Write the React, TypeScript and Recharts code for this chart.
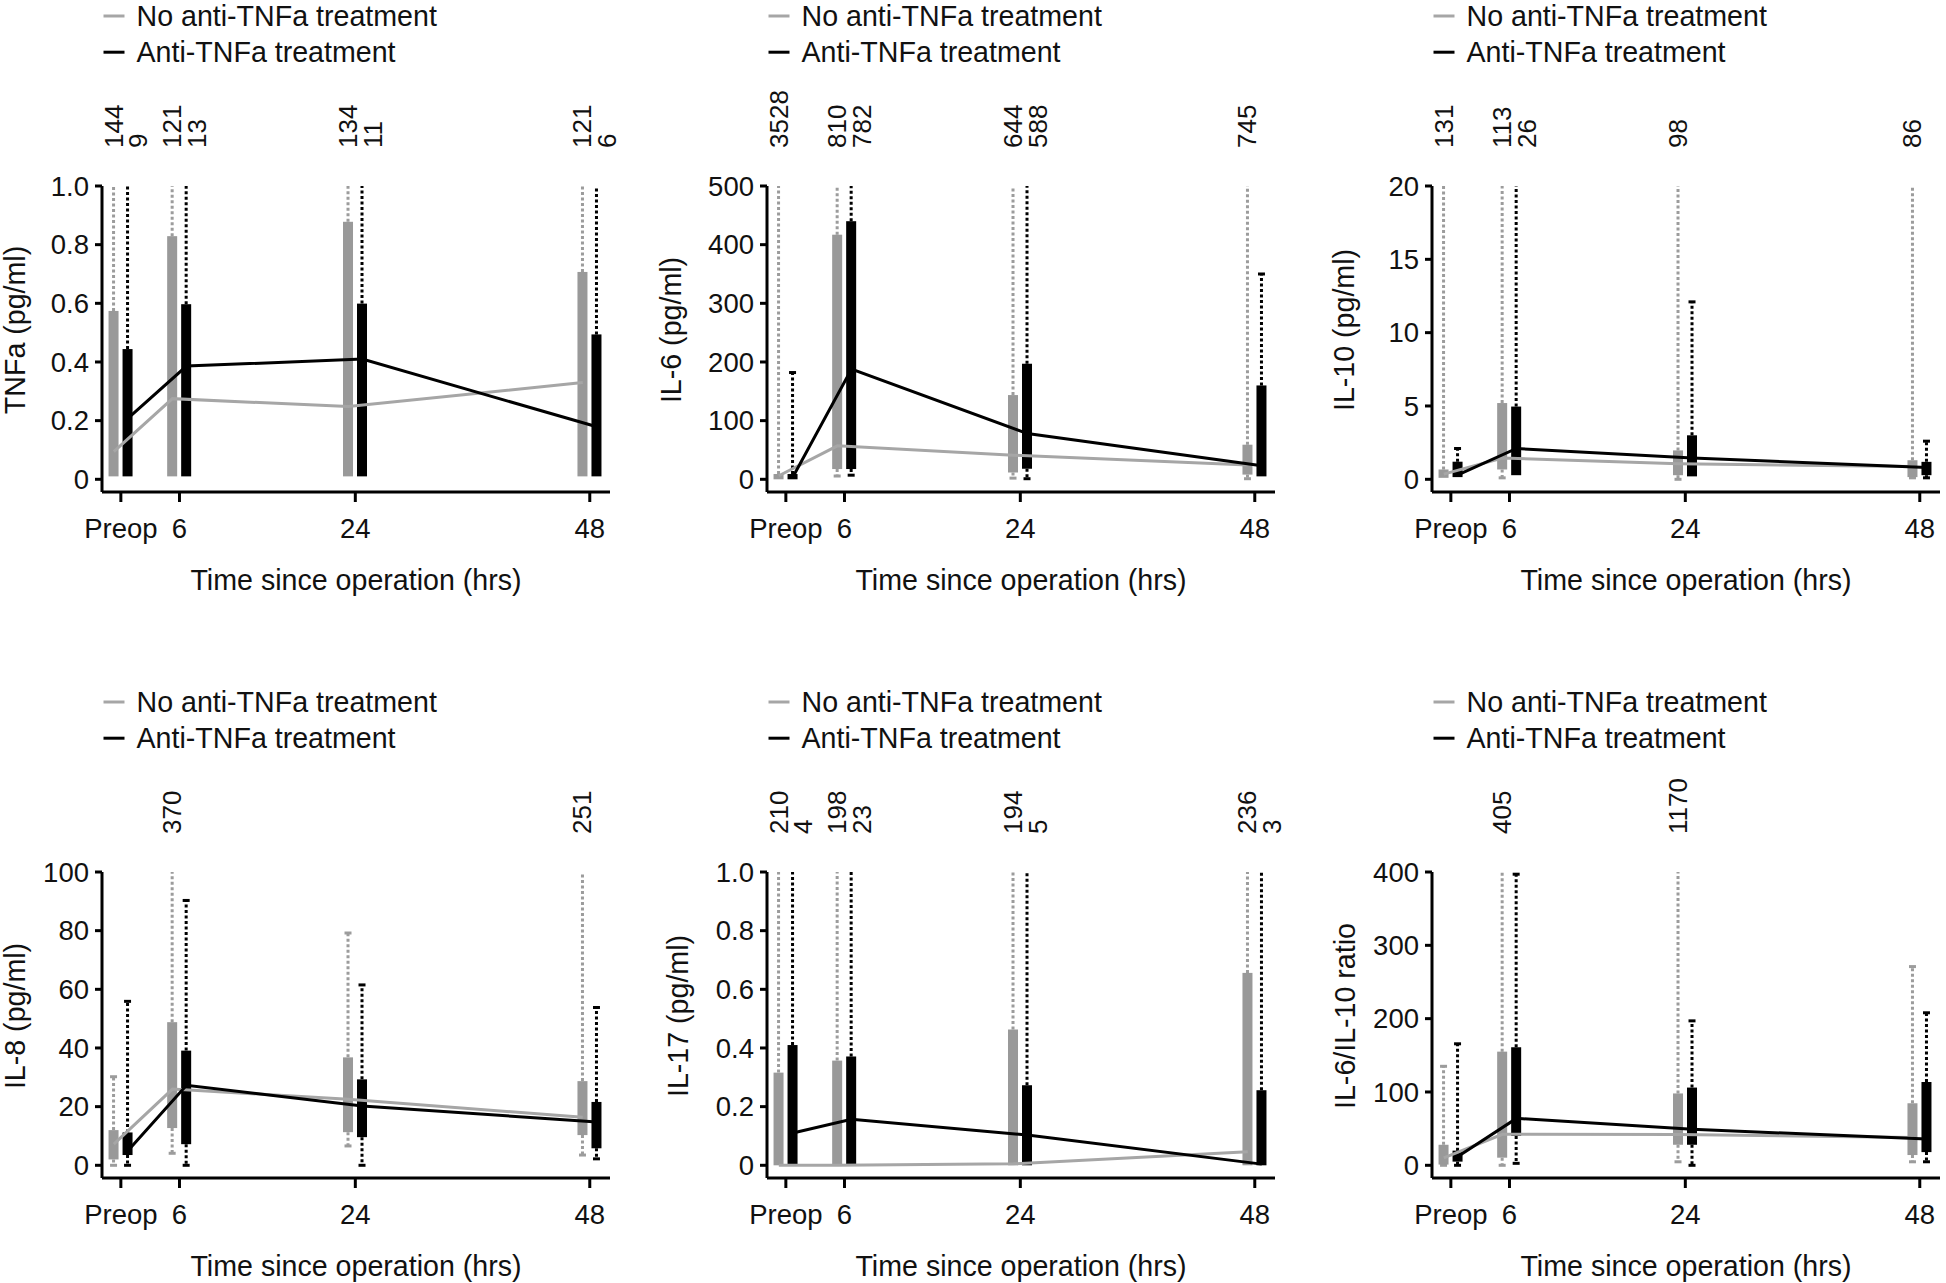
import React from 'react';
import { ComposedChart, Bar, Line, XAxis, YAxis, Legend } from 'recharts';

// ---------- shared categories / labels ----------
const timeLabels = ['Preop', '6', '24', '48'];
const timeHours = [0, 6, 24, 48];
const legendLabels = ['No anti-TNFa treatment', 'Anti-TNFa treatment'];
const xTitle = 'Time since operation (hrs)';

// each row: [lower whisker, Q1, median, Q3, upper whisker] for Preop, 6, 24, 48 h
const tnfaNo = [[0.01, 0.01, 0.094, 0.574, 144], [0.01, 0.01, 0.275, 0.829, 121], [0.01, 0.01, 0.248, 0.878, 134], [0.01, 0.01, 0.33, 0.707, 121]];
const tnfaAnti = [[0.01, 0.01, 0.208, 0.444, 9], [0.01, 0.01, 0.386, 0.597, 13], [0.01, 0.01, 0.41, 0.599, 11], [0.01, 0.01, 0.179, 0.494, 6]];
const tnfaTicks = [0, 0.2, 0.4, 0.6, 0.8, 1];
const tnfaTickLabels = ['0', '0.2', '0.4', '0.6', '0.8', '1.0'];

const il6No = [[0, 0, 6, 9, 3528], [5.6, 17.5, 57, 417, 810], [2, 11.6, 41, 143.6, 644], [1, 8, 24.5, 59, 745]];
const il6Anti = [[0, 0, 4, 9, 182], [7, 17.5, 188, 440, 782], [1, 18, 78, 197, 588], [5, 5, 23, 160, 350]];
const il6Ticks = [0, 100, 200, 300, 400, 500];
const il6TickLabels = ['0', '100', '200', '300', '400', '500'];

const il10No = [[0.1, 0.1, 0.35, 0.67, 131], [0.1, 0.67, 1.45, 5.2, 113], [0, 0.28, 1.06, 1.97, 98], [0.1, 0.15, 0.88, 1.3, 86]];
const il10Anti = [[0.15, 0.15, 0.3, 1.2, 2.1], [0.28, 0.28, 2.1, 4.96, 26], [0.2, 0.2, 1.45, 3.0, 12.1], [0.1, 0.28, 0.8, 1.19, 2.6]];
const il10Ticks = [0, 5, 10, 15, 20];
const il10TickLabels = ['0', '5', '10', '15', '20'];

const il8No = [[0, 2, 7.2, 12, 30.2], [4.1, 12.7, 26, 48.8, 370], [6.6, 11.3, 22.5, 36.8, 79.2], [3.5, 10.3, 16.4, 28.7, 251]];
const il8Anti = [[0, 3.5, 5, 11.2, 55.9], [0, 7.2, 27.3, 39.1, 90.3], [0, 9.6, 20.2, 29.3, 61.5], [2.2, 5.8, 14.8, 21.6, 53.8]];
const il8Ticks = [0, 20, 40, 60, 80, 100];
const il8TickLabels = ['0', '20', '40', '60', '80', '100'];

const il17No = [[0, 0, 0, 0.316, 210], [0, 0, 0, 0.357, 198], [0, 0, 0.005, 0.463, 194], [0, 0, 0.046, 0.656, 236]];
const il17Anti = [[0, 0, 0.11, 0.41, 4], [0, 0, 0.157, 0.371, 23], [0, 0, 0.103, 0.273, 5], [0, 0, 0.004, 0.256, 3]];
const il17Ticks = [0, 0.2, 0.4, 0.6, 0.8, 1];
const il17TickLabels = ['0', '0.2', '0.4', '0.6', '0.8', '1.0'];

const ratioNo = [[0, 1, 10, 28, 135], [0, 10.4, 42.3, 155, 405], [4.8, 28, 42, 98, 1170], [4.8, 14, 38, 84.6, 271]];
const ratioAnti = [[0, 5, 12, 20, 165.7], [2.7, 40, 64, 161, 397], [0, 28, 49, 106, 197], [4.8, 18, 36, 113.6, 208]];
const ratioTicks = [0, 100, 200, 300, 400];
const ratioTickLabels = ['0', '100', '200', '300', '400'];

// ---------- styling / layout constants ----------
const GRAY_BOX = '#999999';
const GRAY_LINE = '#a6a6a6';
const GRAY_WHISKER = '#9c9c9c';
const BLACK = '#000000';
const INK = '#111111';
const FONT = '"Liberation Sans", Arial, Helvetica, sans-serif';

const PANEL_W = 665;
const PANEL_H = 597;
const PLOT_TOP = 186;
const PLOT_LEFT = 102;
const PLOT_RIGHT = 610;
const AXIS_Y = 492;
const ZERO_Y = 479.3;
const X_MIN = -1.93;
const X_MAX = 50.07;
const LINE_SHIFT = 0.72; // hours, so median lines meet box centres
const TICK_FONT = 27.5;
const TITLE_FONT = 28.6;
const COUNT_FONT = 26;

const grayRange = (r: any) => [r.gQ1, r.gQ3];
const blackRange = (r: any) => [r.bQ1, r.bQ3];

function makeBoxShape(group: 'g' | 'b', yMax: number) {
  return (props: any) => {
    const { x, y, width, height, payload } = props;
    if (x == null || y == null || payload == null) return <g />;
    const lo = payload[group + 'Lo'];
    const q1 = payload[group + 'Q1'];
    const q3 = payload[group + 'Q3'];
    const hi = payload[group + 'Hi'];
    const top = Math.min(y, y + height);
    const h = Math.abs(height);
    const k = q3 > q1 ? h / (q3 - q1) : 0;
    const pix = (v: number) => top + (q3 - v) * k;
    const cx = x + width / 2;
    const isG = group === 'g';
    const fill = isG ? GRAY_BOX : BLACK;
    const wc = isG ? GRAY_WHISKER : BLACK;
    const pHi = pix(Math.min(hi, yMax));
    const pTop = pix(yMax);
    const pLo = pix(lo);
    const tx = cx + (isG ? 9 : 19.5);
    const ty = pTop - 38;
    return (
      <g>
        {hi > q3 && (
          <line x1={cx} x2={cx} y1={top} y2={pHi} stroke={wc} strokeWidth={3} strokeDasharray="3 2.5" />
        )}
        {hi > q3 && hi <= yMax && (
          <line x1={cx - 3.5} x2={cx + 3.5} y1={pHi} y2={pHi} stroke={wc} strokeWidth={3} />
        )}
        {lo < q1 && (
          <line x1={cx} x2={cx} y1={top + h} y2={pLo} stroke={wc} strokeWidth={3} strokeDasharray="3 2.5" />
        )}
        {lo < q1 && (
          <line x1={cx - 3.5} x2={cx + 3.5} y1={pLo} y2={pLo} stroke={wc} strokeWidth={3} />
        )}
        <rect x={x} y={top} width={width} height={h} fill={fill} />
        {hi > yMax && (
          <text x={tx} y={ty} transform={`rotate(-90, ${tx}, ${ty})`} textAnchor="start" fontSize={COUNT_FONT} fill={INK}>
            {String(hi)}
          </text>
        )}
      </g>
    );
  };
}

type PanelCfg = {
  title: string;
  no: number[][];
  anti: number[][];
  ticks: number[];
  tickLabels: string[];
  titleX: number;
};

const panels: PanelCfg[] = [
  { title: 'TNFa (pg/ml)', no: tnfaNo, anti: tnfaAnti, ticks: tnfaTicks, tickLabels: tnfaTickLabels, titleX: 14.5 },
  { title: 'IL-6 (pg/ml)', no: il6No, anti: il6Anti, ticks: il6Ticks, tickLabels: il6TickLabels, titleX: 6 },
  { title: 'IL-10 (pg/ml)', no: il10No, anti: il10Anti, ticks: il10Ticks, tickLabels: il10TickLabels, titleX: 13.5 },
  { title: 'IL-8 (pg/ml)', no: il8No, anti: il8Anti, ticks: il8Ticks, tickLabels: il8TickLabels, titleX: 15 },
  { title: 'IL-17 (pg/ml)', no: il17No, anti: il17Anti, ticks: il17Ticks, tickLabels: il17TickLabels, titleX: 13 },
  { title: 'IL-6/IL-10 ratio', no: ratioNo, anti: ratioAnti, ticks: ratioTicks, tickLabels: ratioTickLabels, titleX: 14.5 },
];

const prepared = panels.map((cfg) => {
  const yMax = cfg.ticks[cfg.ticks.length - 1];
  const yMin = -yMax * (AXIS_Y - ZERO_Y) / (ZERO_Y - PLOT_TOP);
  const rows = timeHours.map((t, i) => ({
    t,
    label: timeLabels[i],
    gLo: cfg.no[i][0], gQ1: cfg.no[i][1], gMed: cfg.no[i][2], gQ3: cfg.no[i][3], gHi: cfg.no[i][4],
    bLo: cfg.anti[i][0], bQ1: cfg.anti[i][1], bMed: cfg.anti[i][2], bQ3: cfg.anti[i][3], bHi: cfg.anti[i][4],
  }));
  return {
    cfg,
    yMax,
    yMin,
    rows,
    grayShape: makeBoxShape('g', yMax),
    blackShape: makeBoxShape('b', yMax),
  };
});

const LegendBox = () => (
  <svg width={470} height={74} style={{ display: 'block', overflow: 'visible' }}>
    {legendLabels.map((lab, i) => {
      const ly = 16 + i * 36.2;
      return (
        <g key={lab}>
          <line x1={103.5} x2={124.5} y1={ly} y2={ly} stroke={i === 0 ? GRAY_LINE : BLACK} strokeWidth={3} />
          <text x={136.5} y={ly + 10.2} fontSize={TITLE_FONT} fill={INK} fontFamily={FONT}>
            {lab}
          </text>
        </g>
      );
    })}
  </svg>
);

const Panel = ({ p, left, top }: { p: any; left: number; top: number }) => {
  const { cfg, yMax, yMin, rows, grayShape, blackShape } = p;
  return (
    <div style={{ position: 'absolute', left, top, width: PANEL_W, height: PANEL_H }}>
      <ComposedChart
        width={PANEL_W}
        height={PANEL_H}
        data={rows}
        margin={{ top: PLOT_TOP, right: PANEL_W - PLOT_RIGHT, bottom: 5, left: 0 }}
        barGap={4}
      >
        <XAxis
          xAxisId="main"
          type="number"
          dataKey="t"
          domain={[X_MIN, X_MAX]}
          ticks={timeHours}
          interval={0}
          tickFormatter={(v: number) => timeLabels[timeHours.indexOf(v)]}
          height={PANEL_H - 5 - AXIS_Y}
          tickSize={10}
          tickMargin={16.5}
          axisLine={{ stroke: BLACK, strokeWidth: 3 }}
          tickLine={{ stroke: BLACK, strokeWidth: 3 }}
          tick={{ fontSize: TICK_FONT, fill: INK }}
          label={() => (
            <text x={(PLOT_LEFT + PLOT_RIGHT) / 2} y={590} textAnchor="middle" fontSize={TITLE_FONT} fill={INK}>
              {xTitle}
            </text>
          )}
        />
        <XAxis
          xAxisId="gl"
          type="number"
          dataKey="t"
          orientation="top"
          height={0}
          domain={[X_MIN + LINE_SHIFT, X_MAX + LINE_SHIFT]}
          hide
        />
        <XAxis
          xAxisId="bl"
          type="number"
          dataKey="t"
          orientation="top"
          height={0}
          domain={[X_MIN - LINE_SHIFT, X_MAX - LINE_SHIFT]}
          hide
        />
        <YAxis
          type="number"
          domain={[yMin, yMax]}
          ticks={cfg.ticks}
          interval={0}
          tickFormatter={(v: number) => cfg.tickLabels[cfg.ticks.indexOf(v)]}
          width={PLOT_LEFT}
          tickSize={7}
          tickMargin={6}
          axisLine={{ stroke: BLACK, strokeWidth: 3 }}
          tickLine={{ stroke: BLACK, strokeWidth: 3 }}
          tick={{ fontSize: TICK_FONT, fill: INK }}
          label={() => (
            <text
              x={cfg.titleX}
              y={330}
              transform={`rotate(-90, ${cfg.titleX}, 330)`}
              textAnchor="middle"
              dominantBaseline="central"
              fontSize={TITLE_FONT}
              fill={INK}
            >
              {cfg.title}
            </text>
          )}
        />
        <Bar xAxisId="main" dataKey={grayRange} barSize={10} fill={GRAY_BOX} shape={grayShape} isAnimationActive={false} />
        <Bar xAxisId="main" dataKey={blackRange} barSize={10} fill={BLACK} shape={blackShape} isAnimationActive={false} />
        <Line xAxisId="gl" type="linear" dataKey="gMed" stroke={GRAY_LINE} strokeWidth={3} dot={false} activeDot={false} isAnimationActive={false} />
        <Line xAxisId="bl" type="linear" dataKey="bMed" stroke={BLACK} strokeWidth={3} dot={false} activeDot={false} isAnimationActive={false} />
        <Legend
          layout="horizontal"
          align="center"
          verticalAlign="middle"
          content={() => <LegendBox />}
          wrapperStyle={{ left: 0, top: 0, width: 470, height: 74, margin: 0, padding: 0 }}
        />
      </ComposedChart>
    </div>
  );
};

export default function App() {
  return (
    <div
      style={{
        position: 'absolute',
        left: 0,
        top: 0,
        width: 1946,
        height: 1283,
        background: '#ffffff',
        fontFamily: FONT,
        overflow: 'hidden',
      }}
    >
      <style>{'svg { overflow: visible; }'}</style>
      {prepared.map((p, i) => (
        <Panel key={p.cfg.title} p={p} left={(i % 3) * 665} top={Math.floor(i / 3) * 686} />
      ))}
    </div>
  );
}
